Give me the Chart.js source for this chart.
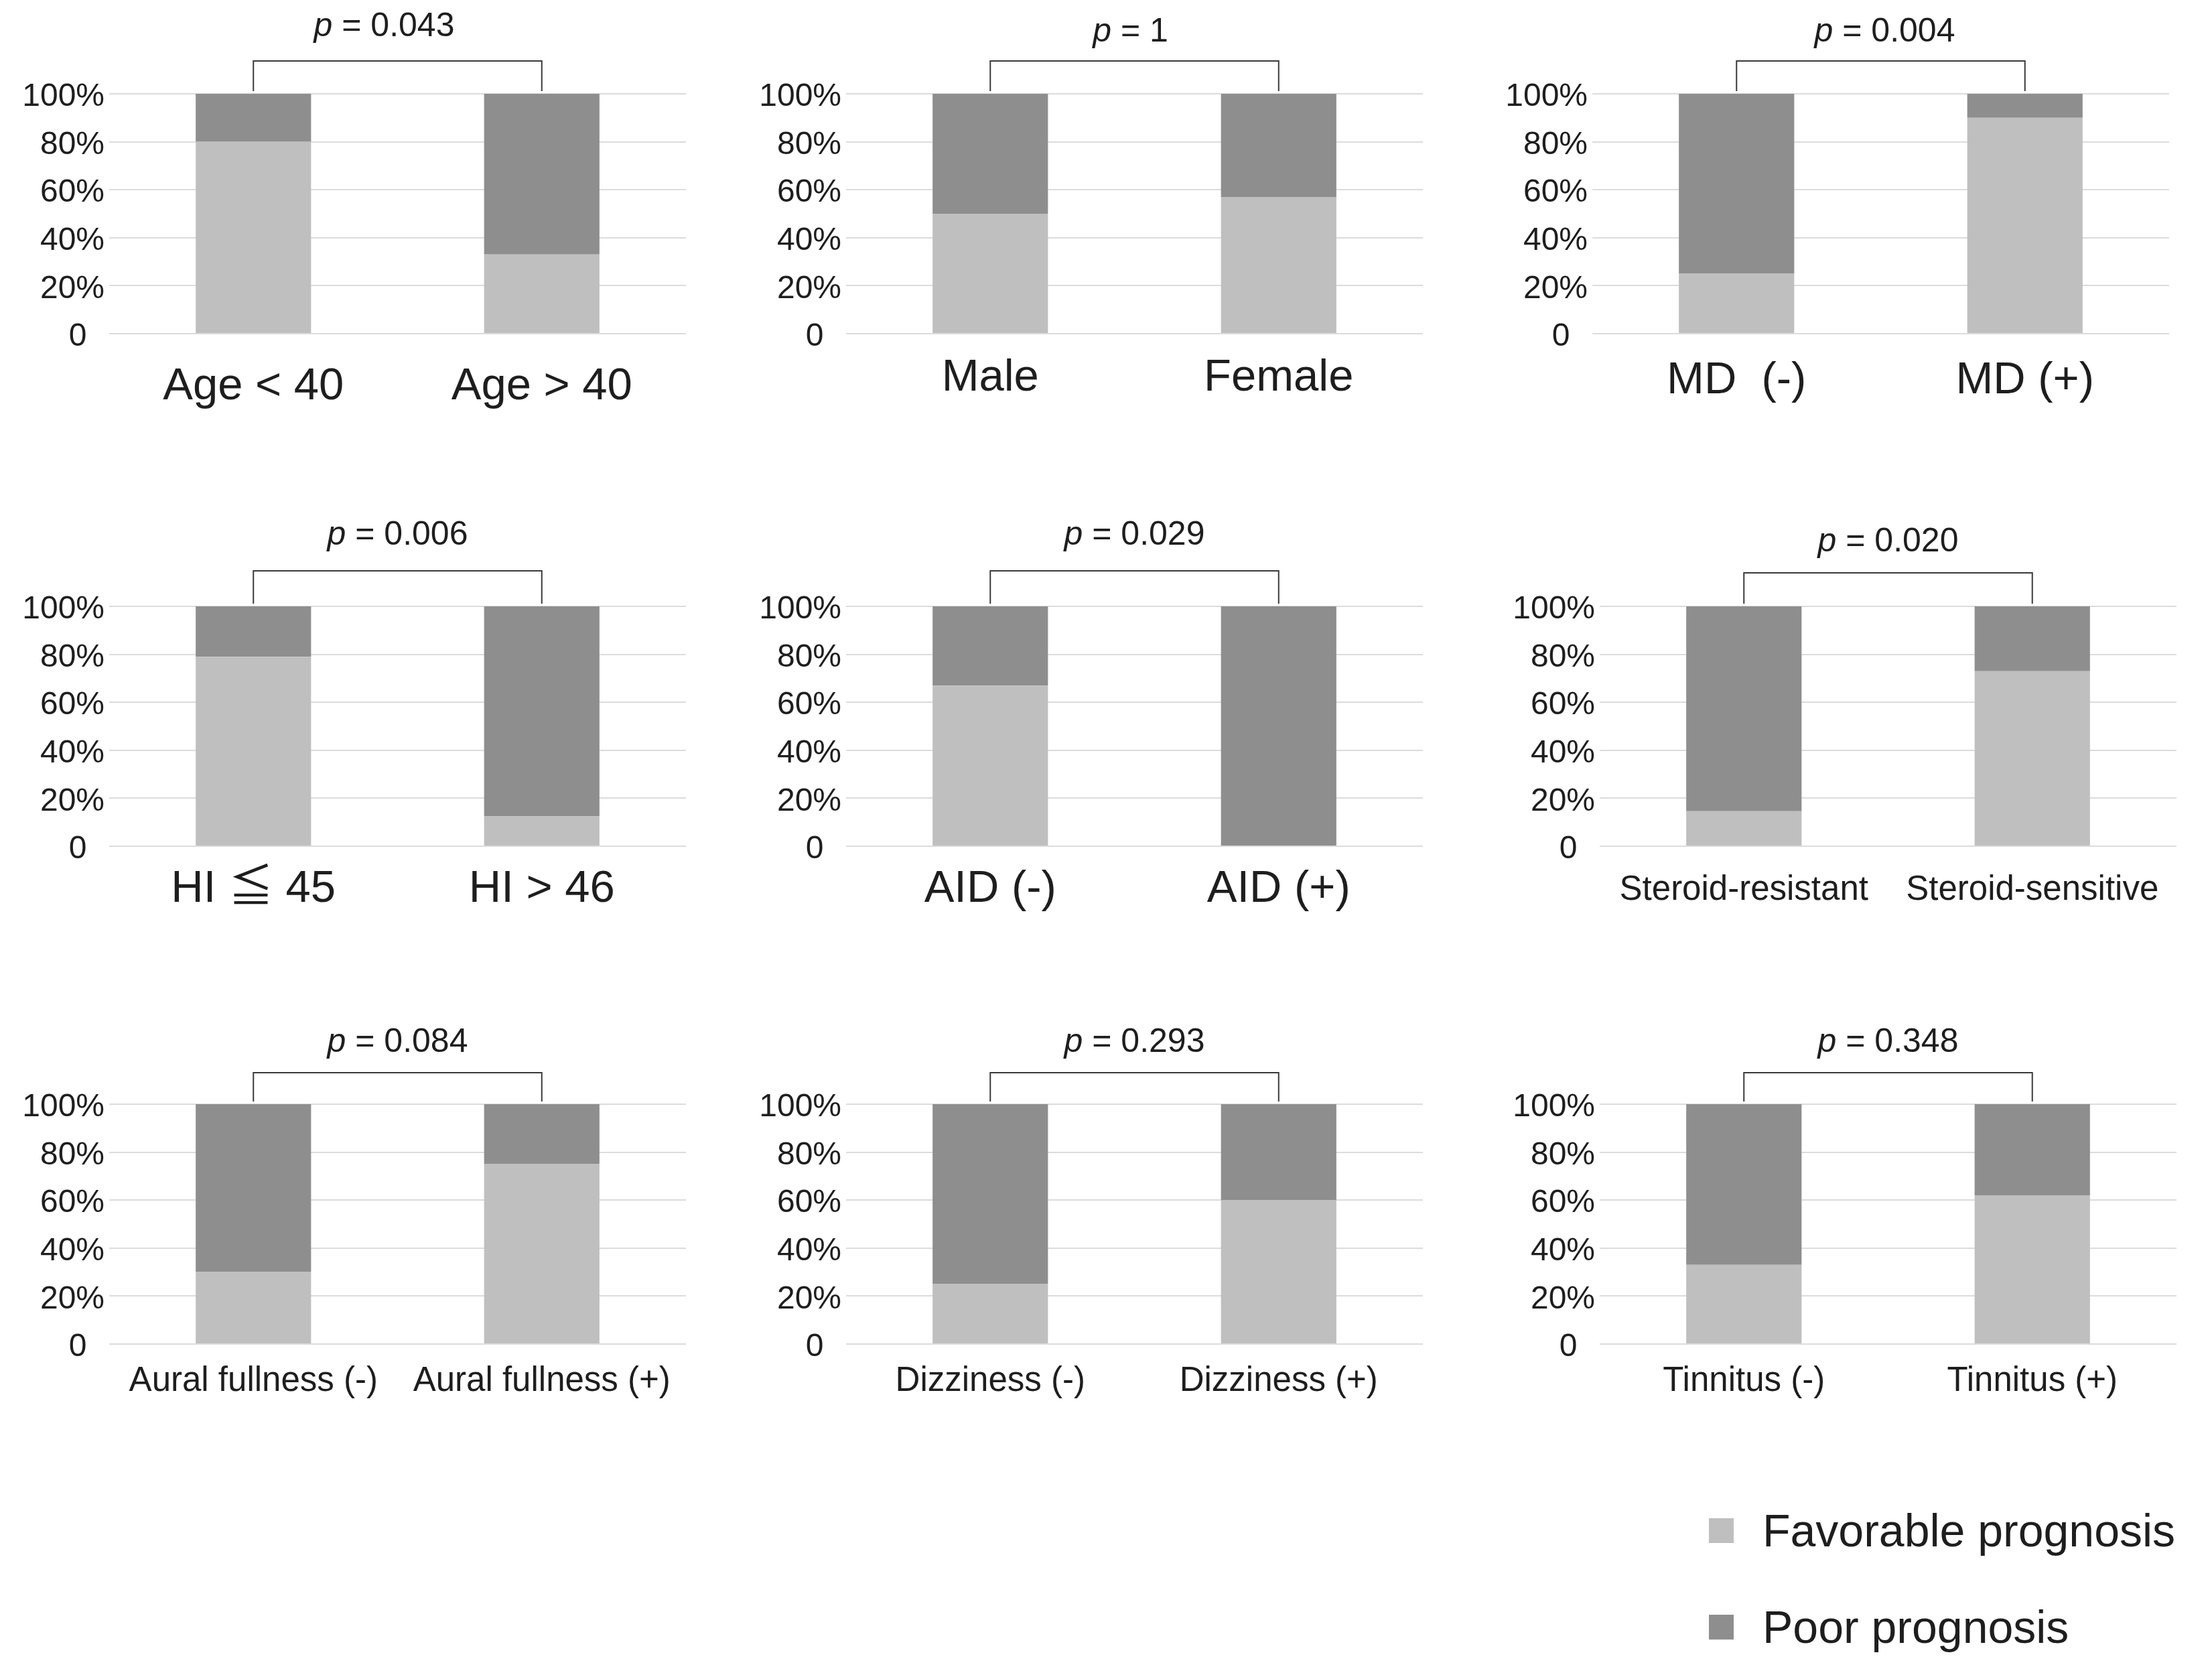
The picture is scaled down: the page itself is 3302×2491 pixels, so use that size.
<!DOCTYPE html>
<html>
<head>
<meta charset="utf-8">
<script src="https://cdn.jsdelivr.net/npm/chart.js@4.4.0/dist/chart.umd.min.js"></script>
<style>
  html, body { margin: 0; padding: 0; background: #fff; overflow: hidden; }
  #page { position: relative; width: 3302px; height: 2491px; background: #fff; }
  .panel { position: absolute; }
  .legend { position: absolute; left: 2551px; font-family: "Liberation Sans", Arial, sans-serif; font-size: 68px; color: #1e1e1e; }
  .legend div { display: flex; align-items: center; height: 80px; position: absolute; white-space: nowrap; }
  .legend span.box { display: inline-block; width: 37px; height: 37px; margin-right: 43px; }
</style>
</head>
<body>
<div id="page"></div>
<script>
// データ (%)
const categories = [
    ['Age < 40', 'Age > 40'],
    ['Male', 'Female'],
    ['MD  (-)', 'MD (+)'],
    ['HI ≦ 45', 'HI > 46'],
    ['AID (-)', 'AID (+)'],
    ['Steroid-resistant', 'Steroid-sensitive'],
    ['Aural fullness (-)', 'Aural fullness (+)'],
    ['Dizziness (-)', 'Dizziness (+)'],
    ['Tinnitus (-)', 'Tinnitus (+)']
];
const favorable = [[80, 33], [50, 57], [25, 90], [79, 12.5], [67, 0], [14.6, 73], [30, 75], [25, 60], [33, 62]];
const poor = [[20, 67], [50, 43], [75, 10], [21, 87.5], [33, 100], [85.4, 27], [70, 25], [75, 40], [67, 38]];
const pValues = ['0.043', '1', '0.004', '0.006', '0.029', '0.020', '0.084', '0.293', '0.348'];
const seriesNames = ['Favorable prognosis', 'Poor prognosis'];
const yTickLabels = { 0: '0  ', 20: '20%', 40: '40%', 60: '60%', 80: '80%', 100: '100%' };

// レイアウト
const FONT = '"Liberation Sans", Arial, "Noto Sans CJK JP", sans-serif';
const COLORS = ['#bfbfbf', '#8e8e8e'];
const CELL_W = 1100, CELL_H = 640;
const Y_AXIS_W = 163, TOP_PAD = 140, RIGHT_PAD = 76, X_AXIS_H = 142;
const panels = [
    { x: 0,    y: 0,    labelSize: 67, labelGap: 79, bracket: 49, pText: 100, pShift: -20 },
    { x: 1100, y: 0,    labelSize: 67, labelGap: 66, bracket: 49, pText: 92,  pShift: -6 },
    { x: 2214, y: 0,    labelSize: 67, labelGap: 70, bracket: 49, pText: 92,  pShift: 6 },
    { x: 0,    y: 765,  labelSize: 67, labelGap: 64, bracket: 53, pText: 106, pShift: 0 },
    { x: 1100, y: 765,  labelSize: 67, labelGap: 64, bracket: 53, pText: 106, pShift: 0 },
    { x: 2225, y: 765,  labelSize: 51, labelGap: 66, bracket: 50, pText: 96,  pShift: 0 },
    { x: 0,    y: 1508, labelSize: 51, labelGap: 56, bracket: 47, pText: 92,  pShift: 0 },
    { x: 1100, y: 1508, labelSize: 51, labelGap: 56, bracket: 47, pText: 92,  pShift: 0 },
    { x: 2225, y: 1508, labelSize: 51, labelGap: 56, bracket: 47, pText: 92,  pShift: 0 }
];

// 括弧と p 値を描くプラグイン
const bracketPlugin = {
    id: 'pBracket',
    afterDraw(chart, args, opts) {
        const ctx = chart.ctx;
        const xs = chart.scales.x;
        const top = chart.chartArea.top;
        const x0 = xs.getPixelForValue(0);
        const x1 = xs.getPixelForValue(1);
        const yb = top - opts.bracket;
        ctx.save();
        ctx.strokeStyle = '#3a3a3a';
        ctx.lineWidth = 2;
        ctx.beginPath();
        ctx.moveTo(x0, top - 4);
        ctx.lineTo(x0, yb);
        ctx.lineTo(x1, yb);
        ctx.lineTo(x1, top - 4);
        ctx.stroke();

        const size = 50;
        const italic = 'italic ' + size + 'px ' + FONT;
        const normal = size + 'px ' + FONT;
        const rest = ' = ' + opts.p;
        ctx.font = italic;
        const wp = ctx.measureText('p').width;
        ctx.font = normal;
        const wr = ctx.measureText(rest).width;
        let x = (x0 + x1) / 2 - (wp + wr) / 2 + opts.pShift;
        const y = top - opts.pText;
        ctx.fillStyle = '#1e1e1e';
        ctx.textBaseline = 'middle';
        ctx.textAlign = 'left';
        ctx.font = italic;
        ctx.fillText('p', x, y);
        ctx.font = normal;
        ctx.fillText(rest, x + wp, y);
        ctx.restore();
    }
};

function createPanel(i) {
    const p = panels[i];
    const div = document.createElement('div');
    div.className = 'panel';
    div.style.left = p.x + 'px';
    div.style.top = p.y + 'px';
    const canvas = document.createElement('canvas');
    canvas.width = CELL_W;
    canvas.height = CELL_H;
    canvas.style.width = CELL_W + 'px';
    canvas.style.height = CELL_H + 'px';
    div.appendChild(canvas);
    document.getElementById('page').appendChild(div);

    const labelPad = p.labelGap - Math.round(p.labelSize * 1.2 / 2);

    new Chart(canvas, {
        type: 'bar',
        data: {
            labels: categories[i],
            datasets: [
                { label: seriesNames[0], data: favorable[i], backgroundColor: COLORS[0] },
                { label: seriesNames[1], data: poor[i], backgroundColor: COLORS[1] }
            ]
        },
        options: {
            responsive: false,
            animation: false,
            devicePixelRatio: 1,
            layout: { padding: { top: TOP_PAD, right: RIGHT_PAD, left: 0, bottom: 0 } },
            categoryPercentage: 0.8,
            barPercentage: 0.5,
            plugins: {
                legend: { display: false },
                tooltip: { enabled: false },
                pBracket: { p: pValues[i], bracket: p.bracket, pText: p.pText, pShift: p.pShift }
            },
            scales: {
                x: {
                    stacked: true,
                    grid: { display: false, drawTicks: false },
                    border: { display: false },
                    ticks: {
                        color: '#1e1e1e',
                        padding: labelPad,
                        maxRotation: 0,
                        autoSkip: false,
                        font: { family: FONT, size: p.labelSize }
                    },
                    afterFit(scale) { scale.height = X_AXIS_H; }
                },
                y: {
                    stacked: true,
                    min: 0,
                    max: 100,
                    grid: { color: '#dcdcdc', lineWidth: 2, drawTicks: false },
                    border: { display: false },
                    ticks: {
                        stepSize: 10,
                        padding: 7,
                        labelOffset: 5,
                        color: '#1e1e1e',
                        font: { family: FONT, size: 48 },
                        callback: v => (v in yTickLabels ? yTickLabels[v] : '')
                    },
                    afterFit(scale) { scale.width = Y_AXIS_W; }
                }
            }
        },
        plugins: [bracketPlugin]
    });
}

for (let i = 0; i < panels.length; i++) createPanel(i);

// 凡例
const legend = document.createElement('div');
legend.className = 'legend';
legend.style.top = '0px';
const legendTops = [2244, 2388];
seriesNames.forEach((name, k) => {
    const row = document.createElement('div');
    row.style.top = legendTops[k] + 'px';
    const box = document.createElement('span');
    box.className = 'box';
    box.style.background = COLORS[k];
    row.appendChild(box);
    row.appendChild(document.createTextNode(name));
    legend.appendChild(row);
});
document.getElementById('page').appendChild(legend);
</script>
</body>
</html>
